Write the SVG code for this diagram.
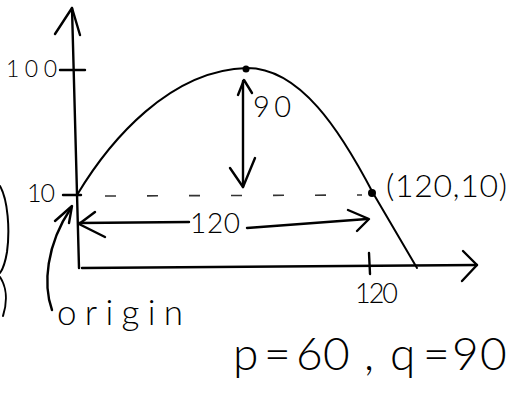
<svg xmlns="http://www.w3.org/2000/svg" width="510" height="401" viewBox="0 0 510 401">
<style>
.ln{fill:none;stroke:#000;stroke-width:2.4;stroke-linecap:round;stroke-linejoin:round}
.thin{fill:none;stroke:#000;stroke-width:2;stroke-linecap:round;stroke-linejoin:round}
.dash{fill:none;stroke:#333;stroke-width:1.6;stroke-dasharray:11 31}
.t{font-family:Lato,"Liberation Sans",sans-serif;font-weight:300;fill:#000}
</style>
<rect width="510" height="401" fill="#fff"/>
<g id="axes">
<path class="ln" d="M72,8 C74,100 77,190 79,268"/>
<path class="ln" d="M55,34 L72,8 L80,35"/>
<path class="ln" d="M82,268 L477,265"/>
<path class="ln" d="M463,251 L477,265 L462,281"/>
<path class="ln" d="M60,70 L85,70"/>
<path class="ln" d="M63,195 L81,195"/>
<path class="ln" d="M369,253 L370,274"/>
</g>
<g id="curve">
<path class="thin" d="M77,195 C110,140 170,70 247,68 C300,68 340,130 373,193 L417,268"/>
<circle cx="246" cy="69" r="3.5"/>
<circle cx="372" cy="193" r="4"/>
</g>
<g id="connectors">
<path class="dash" d="M105,196 L362,195"/>
<path class="ln" d="M243,81 L243,187"/>
<path class="ln" d="M238,95 L244,80 L252,93"/>
<path class="ln" d="M230,168 L243,187 L255,158"/>
<path class="ln" d="M79,223 L189,222"/>
<path class="ln" d="M95,212 L79,224 L105,237"/>
<path class="ln" d="M247,228 L367,219"/>
<path class="ln" d="M348,210 L369,219 L357,231"/>
<path class="ln" d="M52,310 C43,285 46,245 71,208"/>
<path class="ln" d="M55,221 L72,206 L69,223"/>
<path class="thin" d="M0,186 C8,200 10,230 7,252 C5,264 3,269 0,273 M0,277 C6,286 8,300 3,316"/>
</g>
<g id="labels">
<text class="t" x="6" y="77" font-size="23" textLength="51" lengthAdjust="spacing">100</text>
<text class="t" x="27" y="202" font-size="25" textLength="28" lengthAdjust="spacing">10</text>
<text class="t" x="253" y="117" font-size="29" textLength="38" lengthAdjust="spacing">90</text>
<text class="t" x="386" y="197" font-size="32" textLength="121" lengthAdjust="spacing">(120,10)</text>
<text class="t" x="190" y="233" font-size="28" textLength="50" lengthAdjust="spacing">120</text>
<text class="t" x="355" y="303" font-size="27" textLength="43" lengthAdjust="spacing">120</text>
<text class="t" x="57" y="325" font-size="35" textLength="126" lengthAdjust="spacing">origin</text>
<text class="t" x="233 264 296 323 364 376 390 423 452 480" y="370" font-size="46">p=60, q=90</text>
</g>
</svg>
